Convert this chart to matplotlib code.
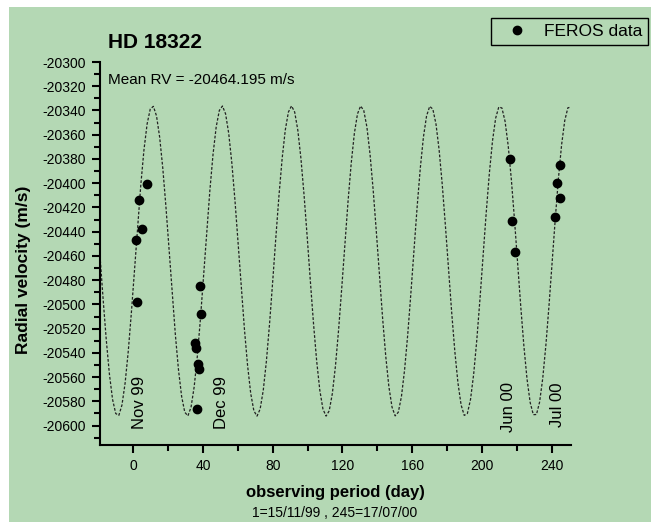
#!/usr/bin/env python3
"""RV curve of HD 18322 with FEROS points and the fitted sine."""

import matplotlib
matplotlib.use("Agg")
import matplotlib.pyplot as plt
import matplotlib.ticker as ticker
from matplotlib.patches import Rectangle
import numpy as np

plt.rcParams["font.family"] = ["Liberation Sans", "DejaVu Sans"]
plt.rcParams["axes.unicode_minus"] = False

BG_GREEN = "#b4d8b4"

# FEROS measurements (day, m/s)
FEROS_DAY = [1.4, 2.1, 3.4, 5.2, 7.7,
             35.7, 35.8, 36.7, 37.3, 37.5, 38.6, 38.8,
             216.0, 217.1, 219.0,
             241.9, 243.1, 244.8, 244.8]
FEROS_RV = [-20447, -20498, -20414, -20438, -20401,
            -20532, -20536, -20586, -20549, -20553, -20485, -20508,
            -20380, -20431, -20457,
            -20428, -20400, -20385, -20412]

# fitted sine model
MEAN_RV    = -20464.195
FIT_K      = 128.0
FIT_PERIOD = 39.85
FIT_T_PEAK = 11.1

MONTH_LABELS = ["Nov 99", "Dec 99", "Jun 00", "Jul 00"]
MONTH_X      = [3.5, 50.4, 215.3, 243.2]
MONTH_Y      = [-20603, -20603, -20605, -20601]

W, H = 651, 522
fig = plt.figure(figsize=(W / 100, H / 100), dpi=100)
fig.patch.set_facecolor("white")
fig.patches.append(Rectangle((9 / W, 0), 1, 1 - 7 / H, transform=fig.transFigure,
                             facecolor=BG_GREEN, edgecolor="none", zorder=-10))

ax = fig.add_axes([100 / W, 1 - 445 / H, 471 / W, 383 / H])
ax.set_facecolor("none")

t = np.arange(-19, 251.5, 1.8)
model = MEAN_RV + FIT_K * np.cos(2 * np.pi * (t - FIT_T_PEAK) / FIT_PERIOD)
ax.plot(t, model, color="#222222", lw=0.9, ls=(0, (2.2, 1.4)), zorder=2)

pts, = ax.plot(FEROS_DAY, FEROS_RV, "o", color="black", ms=6, zorder=3,
               label="FEROS data")

for lab, x, y in zip(MONTH_LABELS, MONTH_X, MONTH_Y):
    ax.text(x, y, lab, rotation=90, ha="center", va="bottom", fontsize=12,
            color="black")

ax.set_xlim(-19, 251)
ax.set_ylim(-20616, -20300)
ax.xaxis.set_major_locator(ticker.MultipleLocator(40))
ax.xaxis.set_minor_locator(ticker.MultipleLocator(20))
ax.yaxis.set_major_locator(ticker.MultipleLocator(20))
ax.yaxis.set_minor_locator(ticker.MultipleLocator(10))
ax.tick_params(which="major", direction="out", length=6, width=1.5,
               labelsize=10, pad=4)
ax.tick_params(which="minor", direction="out", length=4, width=1.5)
for side in ("top", "right"):
    ax.spines[side].set_visible(False)
for side in ("left", "bottom"):
    ax.spines[side].set_linewidth(1.5)

fig.text(108 / W, 1 - 42 / H, "HD 18322", fontsize=15, fontweight="bold",
         ha="left", va="center")
fig.text(108 / W, 1 - 80 / H, "Mean RV = -20464.195 m/s", fontsize=11,
         ha="left", va="center")
fig.text(24 / W, 1 - 270 / H, "Radial velocity (m/s)", fontsize=12.5,
         fontweight="bold", rotation=90, ha="center", va="center")
fig.text(335 / W, 1 - 493 / H, "observing period (day)", fontsize=12,
         fontweight="bold", ha="center", va="center")
fig.text(335 / W, 1 - 513 / H, "1=15/11/99 , 245=17/07/00", fontsize=10,
         ha="center", va="center")

leg = fig.legend(handles=[pts], loc="upper right",
                 bbox_to_anchor=(648 / W, 1 - 18 / H), borderaxespad=0,
                 fontsize=12.5, frameon=True, fancybox=False,
                 edgecolor="black", facecolor=BG_GREEN, framealpha=1,
                 borderpad=0.35, handlelength=2.3, handletextpad=0.4)
leg.get_frame().set_linewidth(1.0)

fig.savefig("out.png", dpi=100)
